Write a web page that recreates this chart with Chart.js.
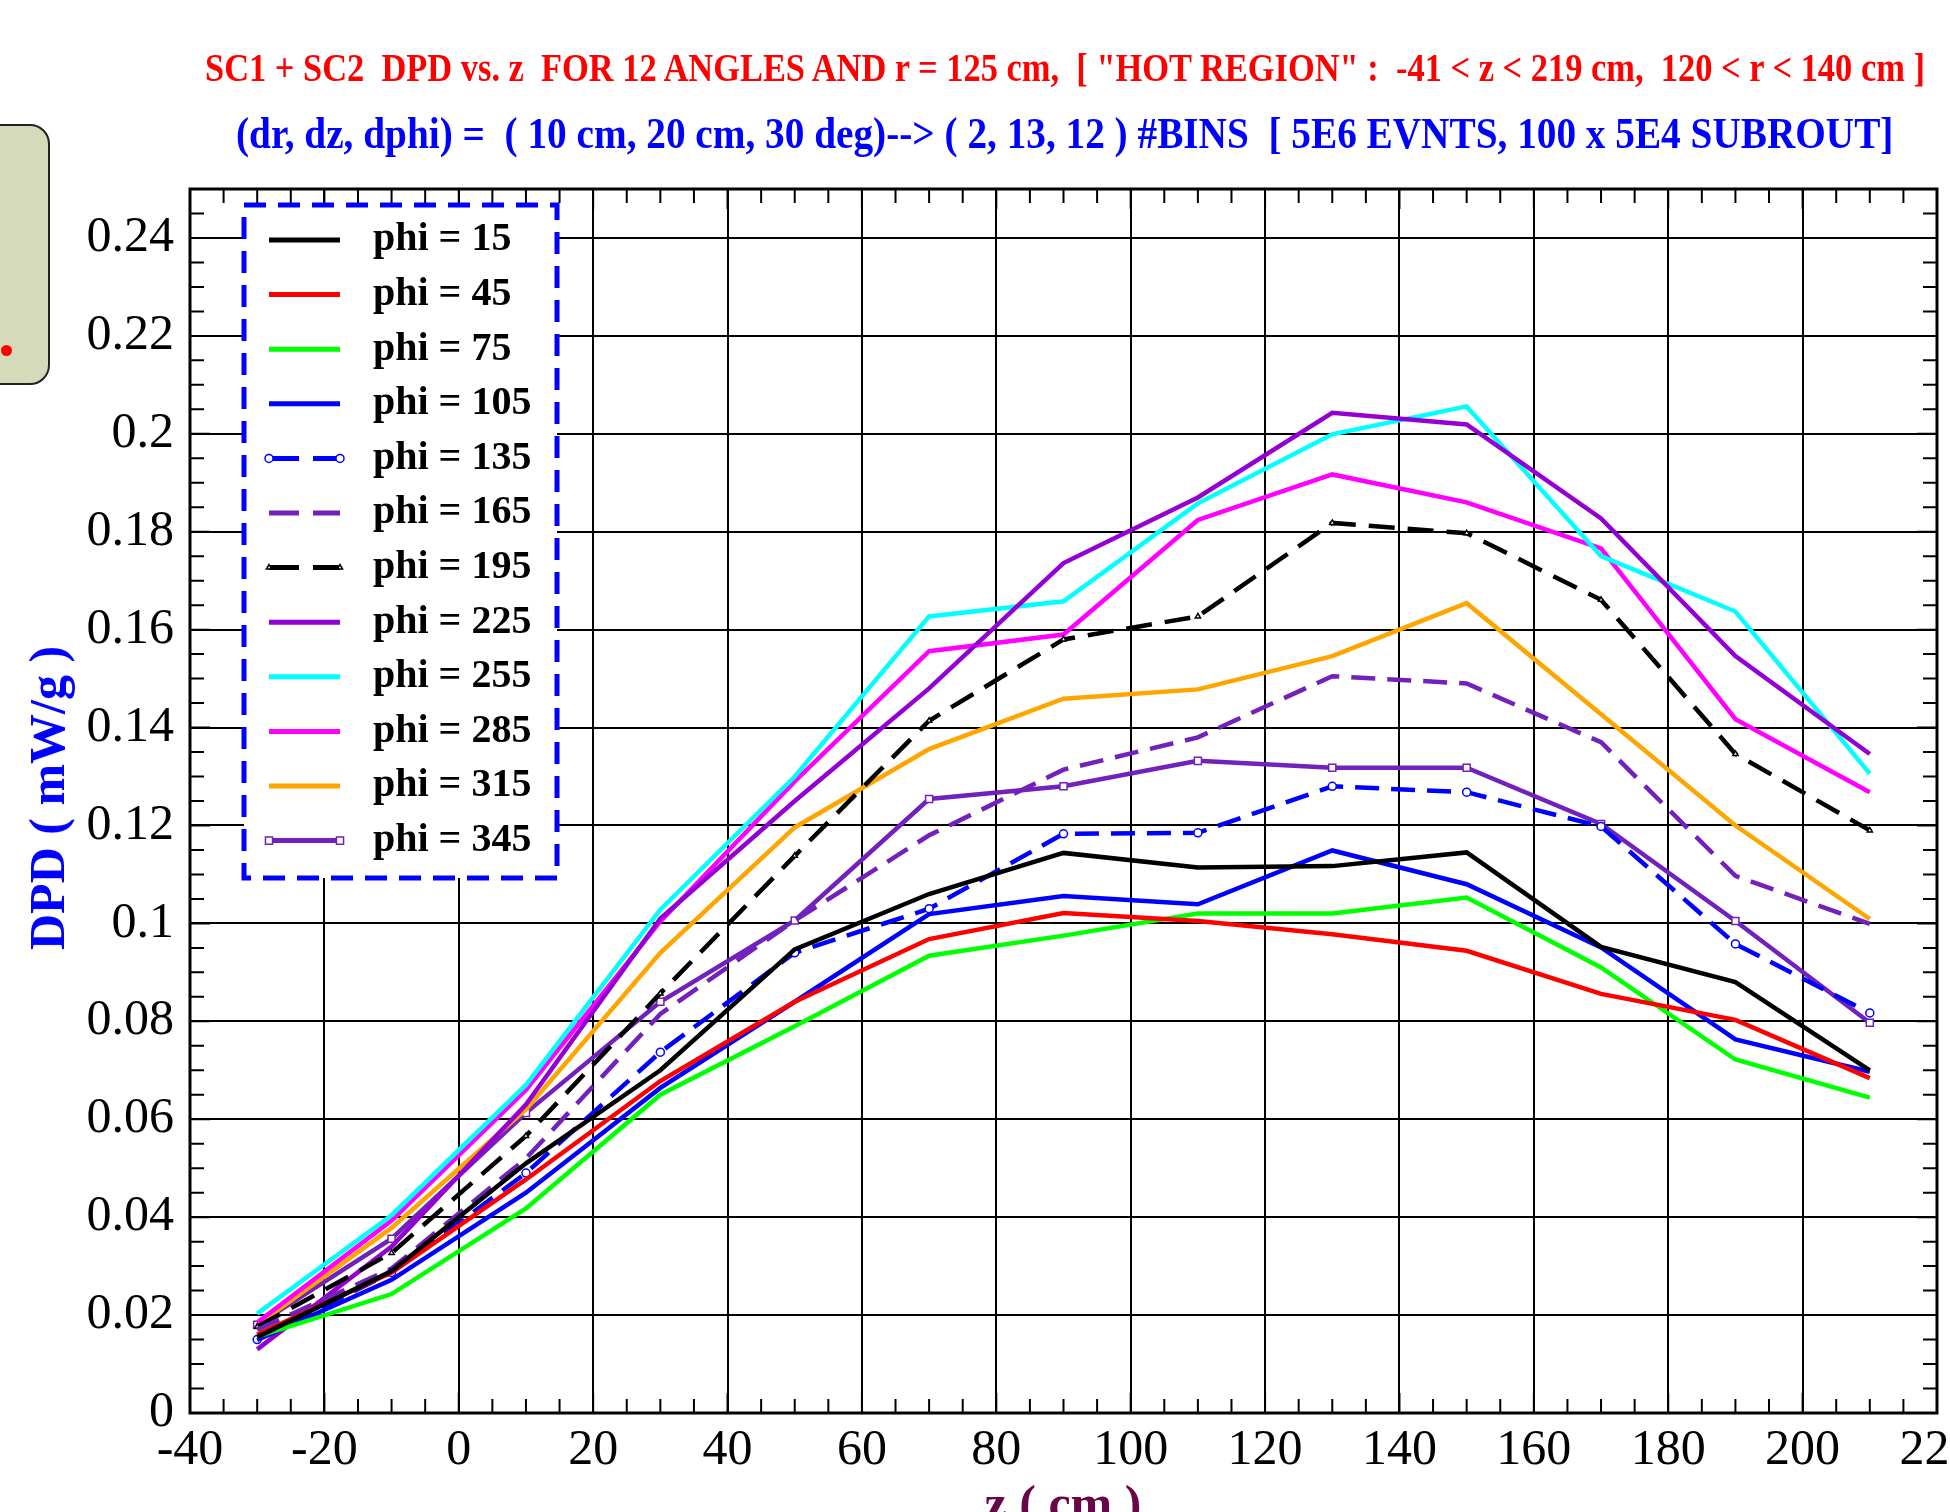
<!DOCTYPE html>
<html>
<head>
<meta charset="utf-8">
<script src="https://cdn.jsdelivr.net/npm/chart.js@4.4.1/dist/chart.umd.min.js"></script>
<style>
  html, body { margin: 0; padding: 0; background: #fff; }
  body { width: 1950px; height: 1512px; overflow: hidden; position: relative; }
  #chart { position: absolute; left: 0; top: 0; }
  .head { position: absolute; white-space: pre; font-family: "Liberation Serif", serif; font-weight: bold; transform-origin: 0 50%; line-height: 1; }
  #title1 { color: #ff0000; font-size: 40px; }
  #title2 { color: #0000ff; font-size: 44px; }
  #ytitle { position: absolute; color: #0000ff; font: bold 50px "Liberation Serif", serif; white-space: pre; transform: translate(-50%, -50%) rotate(-90deg); left: 47px; top: 798px; }
  #xtitle { position: absolute; color: #670748; font: bold 50px "Liberation Serif", serif; white-space: pre; transform: translate(-50%, -50%); left: 1063px; top: 1503px; }
  #note { position: absolute; left: -20px; top: 124px; width: 66px; height: 257px; background: #d5dabb; border: 2px solid #222; border-radius: 20px; }
  #dot { position: absolute; left: 1px; top: 345px; width: 11px; height: 11px; border-radius: 50%; background: #ff0000; }
</style>
</head>
<body>
<div id="note"></div>
<div id="dot"></div>
<canvas id="chart" width="2000" height="1512"></canvas>
<div id="title1" class="head">SC1 + SC2  DPD vs. z  FOR 12 ANGLES AND r = 125 cm,  [ "HOT REGION" :  -41 &lt; z &lt; 219 cm,  120 &lt; r &lt; 140 cm ]</div>
<div id="title2" class="head">(dr, dz, dphi) =  ( 10 cm, 20 cm, 30 deg)--&gt; ( 2, 13, 12 ) #BINS  [ 5E6 EVNTS, 100 x 5E4 SUBROUT]</div>
<div id="ytitle">DPD ( mW/g )</div>
<div id="xtitle">z ( cm )</div>
<script>
// bin centres along z (cm)
const zBins = [-30, -10, 10, 30, 50, 70, 90, 110, 130, 150, 170, 190, 210];

// DPD (mW/g) per angle
const phi15  = [0.0155, 0.029, 0.051, 0.070, 0.0947, 0.106, 0.1144, 0.1114, 0.1117, 0.1145, 0.0952, 0.088, 0.070];
const phi45  = [0.016, 0.0287, 0.0477, 0.0678, 0.084, 0.0968, 0.1021, 0.1005, 0.0978, 0.0944, 0.0856, 0.0803, 0.0684];
const phi75  = [0.0156, 0.0243, 0.0418, 0.065, 0.079, 0.0934, 0.0975, 0.102, 0.102, 0.1053, 0.091, 0.0722, 0.0644];
const phi105 = [0.0149, 0.0272, 0.045, 0.0664, 0.084, 0.1019, 0.1056, 0.1039, 0.1149, 0.108, 0.0951, 0.0763, 0.0697];
const phi135 = [0.015, 0.0287, 0.049, 0.0737, 0.094, 0.103, 0.1183, 0.1185, 0.128, 0.1268, 0.1198, 0.0958, 0.0817];
const phi165 = [0.017, 0.0295, 0.052, 0.0815, 0.1006, 0.118, 0.1314, 0.138, 0.1505, 0.149, 0.137, 0.1097, 0.0999];
const phi195 = [0.0176, 0.0327, 0.0566, 0.0857, 0.1138, 0.1414, 0.158, 0.1627, 0.1818, 0.1797, 0.1661, 0.1346, 0.119];
const phi225 = [0.013, 0.034, 0.063, 0.101, 0.125, 0.148, 0.1736, 0.187, 0.2043, 0.2019, 0.1827, 0.1546, 0.1346];
const phi255 = [0.0203, 0.0404, 0.067, 0.1028, 0.130, 0.1627, 0.1658, 0.1858, 0.1999, 0.2056, 0.175, 0.1637, 0.1306];
const phi285 = [0.0185, 0.0393, 0.066, 0.1004, 0.129, 0.1556, 0.159, 0.1824, 0.1917, 0.186, 0.1766, 0.1417, 0.1268];
const phi315 = [0.018, 0.0378, 0.062, 0.094, 0.1196, 0.1356, 0.1459, 0.1478, 0.1546, 0.1654, 0.1427, 0.12, 0.1009];
const phi345 = [0.018, 0.0356, 0.0613, 0.084, 0.1006, 0.1254, 0.128, 0.1332, 0.1318, 0.1318, 0.1203, 0.1005, 0.0797];

const seriesLabels = ['phi = 15', 'phi = 45', 'phi = 75', 'phi = 105', 'phi = 135', 'phi = 165',
                      'phi = 195', 'phi = 225', 'phi = 255', 'phi = 285', 'phi = 315', 'phi = 345'];
const seriesValues = [phi15, phi45, phi75, phi105, phi135, phi165, phi195, phi225, phi255, phi285, phi315, phi345];

const seriesColors = ['#000000', '#ff0000', '#00ff00', '#0000ff', '#0000ff', '#7221bc',
                      '#000000', '#9400d3', '#00ffff', '#ff00ff', '#ffa500', '#7221bc'];
const seriesDash = [[], [], [], [], [24, 12], [24, 12], [26, 13], [], [], [], [], []];
const seriesMarker = [false, false, false, false, 'circle', false, 'triangle', false, false, false, false, 'rect'];
const seriesMarkerSize = [0, 0, 0, 0, 4, 0, 3, 0, 0, 0, 0, 5];

const FONT = '"Liberation Serif", serif';

const datasets = seriesLabels.map((label, i) => ({
    label: label,
    data: zBins.map((z, j) => ({ x: z, y: seriesValues[i][j] })),
    borderColor: seriesColors[i],
    backgroundColor: seriesColors[i],
    borderWidth: 4.5,
    borderDash: seriesDash[i],
    tension: 0,
    pointStyle: seriesMarker[i] || 'circle',
    pointRadius: seriesMarkerSize[i],
    pointBorderWidth: 1.5,
    pointBorderColor: seriesColors[i],
    pointBackgroundColor: '#ffffff',
}));

// box frame with small inward ticks on all four sides
const frameTicks = {
    id: 'frameTicks',
    beforeDatasetsDraw(chart) {
        const { ctx, chartArea: a, scales: { x, y } } = chart;
        ctx.save();
        ctx.strokeStyle = '#000';
        ctx.lineWidth = 2;
        ctx.beginPath();
        for (let k = 0; k <= 52; k++) {
            const px = x.getPixelForValue(-40 + k * 5);
            const len = k % 4 === 0 ? 20 : 14;
            ctx.moveTo(px, a.bottom); ctx.lineTo(px, a.bottom - len);
            ctx.moveTo(px, a.top); ctx.lineTo(px, a.top + len);
        }
        for (let k = 0; k <= 50; k++) {
            const py = y.getPixelForValue(k * 0.005);
            const len = k % 4 === 0 ? 20 : 14;
            ctx.moveTo(a.left, py); ctx.lineTo(a.left + len, py);
            ctx.moveTo(a.right, py); ctx.lineTo(a.right - len, py);
        }
        ctx.stroke();
        ctx.lineWidth = 3;
        ctx.strokeRect(a.left, a.top, a.right - a.left, a.bottom - a.top);
        ctx.restore();
    }
};

// legend inside the plot, dashed blue box
const boxLegend = {
    id: 'boxLegend',
    afterDatasetsDraw(chart) {
        const ctx = chart.ctx;
        const bx = 244, by = 205, bw = 313, bh = 673;
        ctx.save();
        ctx.fillStyle = '#fff';
        ctx.fillRect(bx, by, bw, bh);
        ctx.strokeStyle = '#0000ff';
        ctx.lineWidth = 5;
        ctx.setLineDash([22, 12]);
        ctx.strokeRect(bx, by, bw, bh);
        chart.data.datasets.forEach((ds, i) => {
            const yy = 240 + i * 54.6;
            ctx.strokeStyle = ds.borderColor;
            ctx.lineWidth = ds.borderWidth + 0.5;
            ctx.setLineDash(ds.borderDash.length ? [30, 14] : []);
            ctx.beginPath();
            ctx.moveTo(269, yy); ctx.lineTo(340, yy);
            ctx.stroke();
            ctx.setLineDash([]);
            if (ds.pointRadius > 0) {
                [269, 340].forEach(px => {
                    ctx.fillStyle = '#fff';
                    ctx.strokeStyle = ds.borderColor;
                    ctx.lineWidth = 1.5;
                    Chart.helpers.drawPoint(ctx, {
                        pointStyle: ds.pointStyle, radius: ds.pointRadius, borderWidth: 1.5
                    }, px, yy);
                });
            }
            ctx.fillStyle = '#000';
            ctx.font = 'bold 40px ' + FONT;
            ctx.textBaseline = 'middle';
            ctx.fillText(ds.label, 373, yy);
        });
        ctx.restore();
    }
};

new Chart(document.getElementById('chart'), {
    type: 'line',
    data: { datasets: datasets },
    plugins: [frameTicks, boxLegend],
    options: {
        responsive: false,
        animation: false,
        layout: { padding: { top: 189, right: 63, bottom: 0, left: 0 } },
        plugins: { legend: { display: false }, tooltip: { enabled: false } },
        scales: {
            x: {
                type: 'linear',
                min: -40,
                max: 220,
                afterFit: s => { s.height = 99; },
                ticks: { stepSize: 20, color: '#000', padding: 8, font: { family: FONT, size: 50 } },
                grid: { color: '#000', lineWidth: 2, drawTicks: false },
                border: { display: false }
            },
            y: {
                min: 0,
                max: 0.25,
                afterFit: s => { s.width = 190; },
                ticks: {
                    stepSize: 0.02,
                    includeBounds: false,
                    color: '#000',
                    padding: 16,
                    font: { family: FONT, size: 50 },
                    callback: v => String(+v.toFixed(3))
                },
                grid: { color: '#000', lineWidth: 2, drawTicks: false },
                border: { display: false }
            }
        }
    }
});

// squeeze the two header lines to the widths they take in the picture
function fitHead(id, left, right, centerY) {
    const el = document.getElementById(id);
    const w = el.offsetWidth;
    el.style.left = left + 'px';
    el.style.top = (centerY - el.offsetHeight / 2) + 'px';
    el.style.transform = 'scaleX(' + ((right - left) / w) + ')';
}
fitHead('title1', 205, 1925, 68);
fitHead('title2', 236, 1893, 134);
</script>
</body>
</html>
